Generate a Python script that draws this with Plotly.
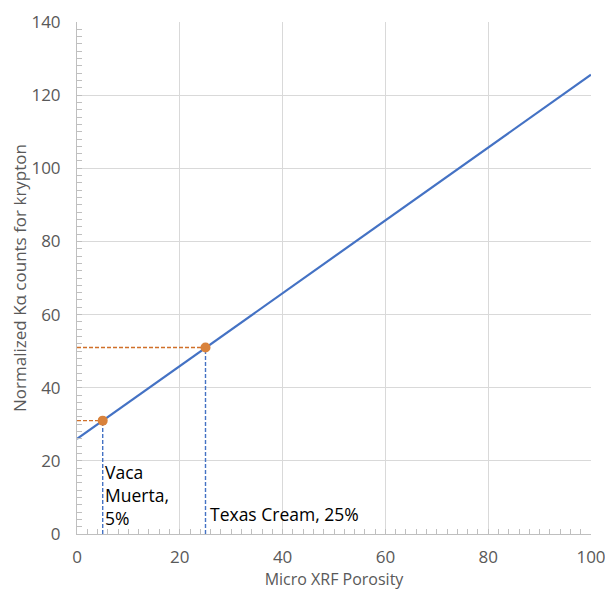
import plotly.graph_objects as go

# Data
line_x = [0, 100]
line_y = [26, 125.6]
sample_names = ["Vaca Muerta", "Texas Cream"]
sample_porosity = [5, 25]
sample_counts = [31, 51]
label_texts = ["Vaca<br>Muerta,<br>5%", "Texas Cream, 25%"]
x_ticks = [0, 20, 40, 60, 80, 100]
y_ticks = [0, 20, 40, 60, 80, 100, 120, 140]

BLUE = "#4472C4"
ORANGE = "#D9823B"
FONT = "Open Sans"

fig = go.Figure()

# dashed guide lines
for px, py in zip(sample_porosity, sample_counts):
    fig.add_trace(go.Scatter(x=[0, px], y=[py, py], mode="lines",
                             line=dict(color="#D0702A", width=1.4, dash="4px,2px"),
                             showlegend=False, hoverinfo="skip"))
    fig.add_trace(go.Scatter(x=[px, px], y=[0, py], mode="lines",
                             line=dict(color=BLUE, width=1.4, dash="4px,2px"),
                             showlegend=False, hoverinfo="skip"))

fig.add_trace(go.Scatter(x=line_x, y=line_y, mode="lines",
                         line=dict(color=BLUE, width=2.2), showlegend=False))
fig.add_trace(go.Scatter(x=sample_porosity, y=sample_counts, mode="markers",
                         marker=dict(color=ORANGE, size=10), showlegend=False,
                         text=sample_names))

fig.add_annotation(x=sample_porosity[0], y=0, text=label_texts[0], showarrow=False,
                   xanchor="left", yanchor="bottom", xshift=0, yshift=2, align="left",
                   font=dict(size=17.5, color="#000000", family=FONT))
fig.add_annotation(x=sample_porosity[1], y=0, text=label_texts[1], showarrow=False,
                   xanchor="left", yanchor="bottom", xshift=2, yshift=6, align="left",
                   font=dict(size=17.5, color="#000000", family=FONT))

axis_common = dict(
    showgrid=True, gridcolor="#D9D9D9", gridwidth=1,
    showline=True, linecolor="#BFBFBF", linewidth=1,
    zeroline=False, automargin=False, ticklabeloverflow="allow",
    ticks="inside", ticklen=0, tickcolor="#BFBFBF",
    tickfont=dict(size=17, color="#595959", family=FONT),
    minor=dict(ticks="inside", ticklen=5, tickcolor="#BFBFBF", showgrid=False),
)

fig.update_xaxes(range=[0, 100], tickvals=x_ticks,
                 minor_dtick=2, ticklabelstandoff=8,
                 title=dict(text="Micro XRF Porosity", standoff=18,
                            font=dict(size=16, color="#595959", family=FONT)),
                 **axis_common)
fig.update_yaxes(range=[0, 140], tickvals=y_ticks,
                 minor_dtick=2, ticklabelstandoff=12,
                 title=dict(text="Normalized Kα counts for krypton", standoff=0,
                            font=dict(size=17, color="#595959", family=FONT)),
                 **axis_common)

fig.update_layout(
    width=605, height=590,
    margin=dict(l=77, r=14, t=22, b=56),
    plot_bgcolor="white", paper_bgcolor="white",
)

# remove the default 8px page margin so the figure fills the window exactly
fig.write_html("out.html", config={"displayModeBar": False},
               post_script="document.body.style.margin='0';document.body.style.overflow='hidden';")
